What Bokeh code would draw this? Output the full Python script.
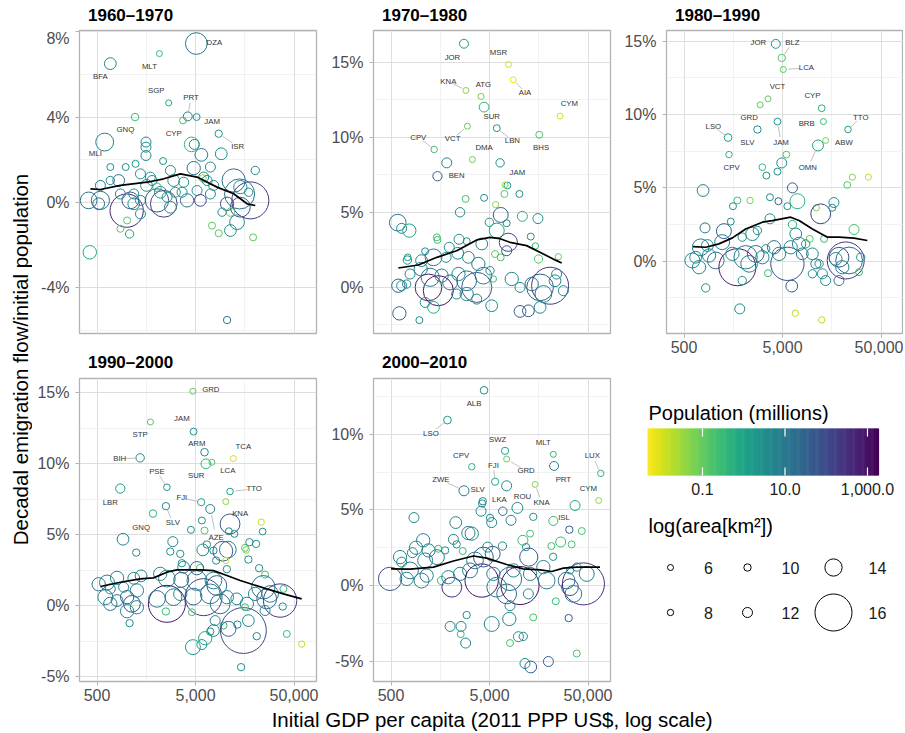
import math
from bokeh.plotting import figure
from bokeh.models import Range1d, FixedTicker, NumeralTickFormatter, PrintfTickFormatter, ColumnDataSource
from bokeh.layouts import row, column
from bokeh.transform import log_cmap
from bokeh.palettes import Viridis256
from bokeh.embed import file_html
from bokeh.resources import INLINE
from bokeh.core.properties import value

FONT = "Liberation Sans"
PAL = list(Viridis256)[::-1]
POP_LO, POP_HI = 10 ** -2.333, 10 ** 3.267
X_LO, X_HI = 10 ** 2.521, 10 ** 4.927
X_TICKS = [500, 5000, 50000]
X_MINOR = [158.1, 1581.1, 15811.4, 158113.9]
POP_TICKS = [0.1, 10, 1000]
POP_TICK_LABELS = ["0.1", "10.0", "1,000.0"]
AREA_KEYS = [6, 8, 10, 12, 14, 16]
PANEL_TITLES = ["1960\u20131970", "1970\u20131980", "1980\u20131990", "1990\u20132000", "2000\u20132010"]

# ---------------- 1960-1970 ----------------
p60_gdp = [5090, 2150, 682, 2670, 4170, 3730, 5130, 8590, 1216, 598,
           422, 10450, 1570, 1570, 1570, 4570, 4860, 5730, 9120, 682,
           977, 1230, 2340, 7080, 20200, 4790, 6050, 2780, 1380, 830,
           1740, 3000, 3790, 7640, 12200, 14250, 541, 520, 1000, 1090,
           1180, 863, 1380, 2030, 2380, 2570, 4100, 5600, 7080, 10450,
           18000, 14000, 14250, 11300, 9300, 11300, 7350, 8590, 13200, 19200,
           863, 1070, 1010, 1380, 1810, 2200, 3120, 3650, 5180, 5920,
           541, 682, 411, 6550, 2030, 1590, 1180, 2780, 17300]
p60_flow = [7.44, 6.97, 6.5, 4.66, 4.03, 3.84, 4.0, 3.22, 4.0, 2.83,
            -2.33, -5.5, 2.83, 2.59, 2.2, 2.72, 2.72, 2.23, 2.28, 1.66,
            1.66, 1.81, 1.94, 1.66, 1.5, 1.61, 1.19, 1.5, 1.34, 1.03,
            1.19, 1.03, 0.95, 0.8, 1.03, 0.72, 0.1, -0.06, -0.38, 0.1,
            0.4, 0.4, 0.1, 0.1, -0.06, 0.25, 0.1, 0.1, 0.4, -0.06,
            0.1, 0.4, -0.22, -0.45, -0.45, -1.31, -1.08, -1.44, -0.92, -1.63,
            -1.23, -1.47, -0.84, -0.53, 1.03, 0.48, 0.48, 0.48, 0.56, 1.14,
            0.8, 1.03, 0.1, 1.03, 0.72, 0.8, -0.06, -0.22, 0.48]
p60_pop = [11, 0.33, 4.8, 0.6, 8.9, 0.2, 1.6, 2.1, 0.25, 5.3,
           0.8, 12, 3, 2.5, 4, 0.35, 3, 8, 3, 3,
           3, 2, 2, 4, 4, 15, 3, 3, 3, 15,
           3, 3, 3, 3, 15, 3, 15, 15, 450, 60,
           3, 3, 3, 60, 150, 3, 15, 150, 3, 60,
           200, 15, 60, 0.12, 4, 3, 0.12, 0.12, 3, 0.12,
           0.12, 1.2, 0.12, 3, 3, 3, 3, 3, 3, 0.03,
           15, 3, 15, 3, 0.4, 3, 3, 3, 3]
p60_area = [14.65, 6, 12.7, 6.5, 11.4, 9.1, 9.3, 10, 10.2, 14.1,
            13.2, 10, 12, 12, 12, 13.5, 12, 13, 12.7, 9.5,
            9.5, 9.5, 9.5, 12, 11, 13.15, 12, 12, 12, 12.7,
            12, 12.7, 12, 12, 14.85, 13.15, 14.15, 12.7, 15.75, 13.9,
            12, 12, 12, 14.85, 15.2, 12, 13.15, 12.7, 12, 13.15,
            16, 15.5, 14.4, 11, 11, 12.7, 9.5, 9.5, 13.5, 9.5,
            9.5, 11, 9.5, 12, 12, 12.7, 12, 12, 12, 9.5,
            12, 11, 13.9, 12, 11, 12.7, 12.7, 12.7, 11]
p60_lab = ["DZA", "MLT", "BFA", "SGP", "PRT", "CYP", "JAM", "ISR", "GNQ", "MLI"]
p60_lab_pt = [0, 1, 2, 3, 4, 5, 6, 7, 8, 9]
p60_lab_gdp = [7760, 1700, 541, 2000, 4500, 3000, 7360, 13400, 970, 481]
p60_lab_flow = [7.48, 6.38, 5.88, 5.25, 4.91, 3.22, 3.8, 2.63, 3.42, 2.28]
p60_lab_seg = [0, 0, 0, 0, 1, 0, 0, 1, 0, 0]
p60_fit_gdp = [428, 541, 863, 1610, 2380, 3510, 5180, 8260, 12200, 16700, 20200]
p60_fit_flow = [0.64, 0.61, 0.8, 0.95, 1.11, 1.34, 1.19, 0.72, 0.41, -0.06, -0.14]

# ---------------- 1970-1980 ----------------
p70_gdp = [2750, 7800, 2880, 4100, 8700, 4400, 26000, 1370, 2980, 5920,
           16000, 3350, 1480, 7590, 7180, 1840, 6400, 10050, 7080, 2860,
           4400, 5780, 2510, 6490, 10770, 15500, 585, 641, 767, 4980,
           5920, 7760, 7460, 13100, 14600, 15700, 25000, 1460, 1480, 2450,
           1950, 2930, 4170, 1110, 733, 738, 1020, 1350, 1810, 2380,
           3050, 3850, 5690, 6490, 7460, 5060, 5470, 593, 721, 780,
           1000, 1200, 1510, 1250, 1630, 1990, 2420, 2930, 3710, 4330,
           2930, 2320, 3710, 5260, 8400, 10200, 13400, 16300, 20600, 17600,
           16300, 12400, 10200, 608, 970, 1350, 1110, 24000, 28100, 23100,
           641]
p70_flow = [16.22, 14.84, 13.11, 12.71, 13.82, 12.0, 11.4, 9.18, 10.73, 10.6,
            10.16, 8.51, 7.4, 6.78, 6.82, 8.29, 8.29, 6.22, 6.22, 5.89,
            5.96, 5.51, 5.0, 4.82, 4.73, 4.58, 4.31, 3.93, 3.78, 4.33,
            3.78, 3.0, 4.27, 3.38, 2.76, 1.89, 2.04, 3.33, 3.16, 3.2,
            2.67, 3.07, 2.89, 2.4, 1.82, 2.0, 1.78, 2.0, 2.0, 2.27,
            2.0, 1.56, 2.22, 2.0, 2.44, 1.11, 0.56, 0.11, 0.22, 0.89,
            1.22, 0.0, -0.22, 0.67, 0.78, 0.33, 0.89, 0.44, 0.0, 0.78,
            -0.44, -0.44, -0.78, -1.22, 0.56, 0.0, 0.22, 0.0, 0.11, -0.44,
            -1.33, -1.56, -1.6, -1.73, -2.18, -1.33, -1.0, 0.89, -0.22, 0.44,
            0.11]
p70_pop = [1.7, 0.012, 0.045, 0.065, 0.007, 0.37, 0.01, 0.27, 0.09, 2.3,
           0.17, 0.07, 40, 1.9, 0.03, 6, 3, 3, 0.12, 0.2,
           3, 0.04, 3, 40, 0.5, 3, 12, 4, 0.8, 3,
           0.8, 100, 3, 3, 0.3, 0.15, 0.1, 0.2, 0.25, 3,
           3, 3, 4, 3, 3, 2, 5, 8, 3, 6,
           5, 8, 0.12, 0.2, 60, 3, 0.2, 40, 4, 4,
           6, 600, 800, 10, 5, 15, 5, 20, 60, 8,
           5, 3, 4, 5, 5, 3, 12, 40, 220, 8,
           3, 40, 40, 30, 3, 0.8, 3, 4, 3, 5,
           3]
p70_area = [11.4, 4.6, 5.6, 6.1, 4.5, 11.9, 5.5, 8.3, 5.9, 9.3,
            9.5, 6.6, 11.6, 9.3, 6, 12, 11, 9.5, 9.5, 9.5,
            9.5, 8, 11.7, 13.55, 12, 12, 13.9, 12, 13.15, 11,
            13.55, 14.15, 9.5, 9.5, 8, 11, 8, 9.5, 9.5, 12,
            12, 9.5, 12.7, 9.5, 11, 9, 12.7, 13.9, 12, 12.7,
            12.7, 13.15, 9.5, 9.5, 12, 11, 8, 13.15, 11, 12,
            13.15, 15.2, 15.5, 14.15, 13.15, 13.55, 13.15, 14.4, 15.5, 13.9,
            13.15, 12, 12, 12.7, 13.15, 12, 13.15, 15.2, 16, 13.9,
            12.7, 12.7, 12.7, 13.15, 9.5, 12.7, 12, 12, 12, 12.7,
            12]
p70_lab = ["JOR", "MSR", "KNA", "ATG", "AIA", "SUR", "CYM", "CPV", "VCT", "LBN", "BHS", "DMA", "BEN", "JAM"]
p70_lab_pt = [0, 1, 2, 3, 4, 5, 6, 7, 8, 9, 10, 11, 12, 13]
p70_lab_gdp = [2100, 6150, 1910, 4330, 11450, 5260, 32300, 946, 2110, 8530, 16700, 4400, 2320, 9590]
p70_lab_flow = [15.33, 15.62, 13.73, 13.51, 12.98, 11.38, 12.22, 10.0, 9.89, 9.78, 9.31, 9.31, 7.44, 7.62]
p70_lab_seg = [0, 0, 1, 0, 1, 0, 0, 1, 1, 1, 0, 0, 0, 0]
p70_fit_gdp = [593, 946, 1460, 2320, 3710, 5060, 6400, 8070, 11900, 17600, 24000, 27000]
p70_fit_flow = [1.29, 1.49, 2.0, 2.44, 3.16, 3.33, 3.24, 3.0, 2.78, 2.22, 1.78, 1.62]

# ---------------- 1980-1990 ----------------
p80_gdp = [4270, 4910, 5090, 3560, 2960, 12500, 23100, 2780, 13000, 4440,
           1400, 13700, 11450, 1430, 5470, 4910, 3120, 3430, 4440, 6300,
           780, 22700, 25600, 37200, 1740, 2340, 1570, 3730, 4540, 7080,
           11000, 12200, 16600, 16000, 5600, 1490, 817, 1270, 1950, 2470,
           2780, 3730, 6300, 6810, 9440, 13200, 26600, 8590, 738, 863,
           1220, 897, 608, 710, 1050, 1740, 2110, 2290, 1550, 2670,
           3120, 3370, 4100, 5600, 4610, 6050, 7360, 7940, 10050, 11750,
           12700, 10050, 13700, 18700, 21900, 23700, 18700, 20200, 31100, 29900,
           3560, 1950, 830, 6200, 1840, 6750, 12500, 656, 10900, 17300]
p80_flow = [14.82, 13.86, 13.07, 11.07, 10.66, 10.43, 8.98, 8.98, 9.52, 9.52,
            8.43, 8.23, 7.89, 7.27, 7.27, 6.7, 6.41, 5.84, 6.11, 5.0,
            4.82, 5.2, 5.73, 5.73, 4.14, 4.14, 3.75, 4.36, 4.09, 4.09,
            3.64, 3.23, 4.0, 3.64, 3.75, 2.7, 2.27, 2.05, 1.64, 1.86,
            2.09, 2.89, 2.5, 1.86, 1.52, 1.52, 2.16, 1.18, 0.95, 1.07,
            1.3, 0.39, 0.05, -0.41, 0.05, -0.41, 0.27, -0.18, 0.5, 0.5,
            0.27, 0.84, 0.95, -0.18, 0.5, 0.95, 1.18, 0.5, 0.5, -0.18,
            -0.86, -0.86, -1.32, -1.32, 0.05, 0.05, 0.27, -0.41, 0.27, -0.75,
            -0.82, -1.32, -1.82, -1.7, -3.25, -3.55, -4.0, 0.27, -0.18, 0.16]
p80_pop = [2.2, 0.15, 0.12, 0.1, 0.1, 0.6, 1.1, 4.6, 0.25, 2.2,
           1.5, 0.06, 1.2, 0.3, 0.15, 3, 0.25, 3, 3, 40,
           6, 0.15, 0.05, 0.015, 0.2, 0.06, 3, 3, 30, 0.5,
           0.05, 150, 3, 3, 3, 3, 10, 40, 3, 4,
           3, 3, 0.5, 4, 0.12, 0.3, 0.2, 3, 10, 5,
           6, 5, 4, 4, 15, 750, 8, 6, 4, 15,
           5, 3, 15, 80, 5, 5, 6, 12, 4, 3,
           3, 3, 4, 10, 230, 20, 60, 8, 3, 0.3,
           0.3, 3, 3, 40, 4, 0.02, 0.02, 5, 12, 5]
p80_area = [11.4, 10.0, 6.4, 5.9, 6, 9.1, 8.6, 10, 6.1, 9.3,
            10.4, 5.2, 12.4, 8.3, 9, 12, 9, 9.5, 9.5, 12,
            12.7, 9, 7, 7, 9.5, 8, 9.5, 9.5, 9.5, 13.55,
            8, 14.4, 12, 9.5, 9.5, 9.5, 12, 13.55, 11, 13.15,
            11, 12, 11, 12.7, 9.5, 9.5, 12, 11, 13.9, 12.7,
            13.55, 13.15, 13.55, 13.15, 13.9, 16, 14.85, 13.9, 13.15, 13.9,
            13.15, 11, 13.15, 15.75, 13.15, 13.15, 13.15, 12.7, 12.7, 11,
            12, 11, 12, 12, 16, 15.2, 14.4, 13.15, 11, 9.5,
            9.5, 11, 11, 12.7, 12, 8, 8, 12.7, 12, 13]
p80_lab = ["JOR", "BLZ", "LCA", "VCT", "GRD", "CYP", "TTO", "SLV", "BRB", "JAM", "LSO", "ABW", "OMN", "CPV"]
p80_lab_pt = [0, 1, 2, 3, 4, 5, 6, 7, 8, 9, 10, 11, 12, 13]
p80_lab_gdp = [2840, 6300, 8730, 4440, 2290, 10050, 31100, 2200, 8790, 4830, 993, 21000, 9020, 1520]
p80_lab_flow = [14.89, 14.89, 13.18, 11.91, 9.77, 11.27, 9.77, 8.07, 9.36, 8.07, 9.2, 8.07, 6.36, 6.41]
p80_lab_seg = [0, 1, 1, 0, 0, 0, 1, 0, 0, 1, 1, 0, 1, 0]
p80_fit_gdp = [617, 830, 1130, 1550, 2110, 3120, 3940, 6050, 7360, 10050, 14300, 18700, 26600, 36300]
p80_fit_flow = [1.0, 0.95, 1.18, 1.59, 2.2, 2.66, 2.77, 3.0, 2.77, 2.2, 1.64, 1.64, 1.57, 1.41]

# ---------------- 1990-2000 ----------------
p90_gdp = [4700, 4770, 1740, 6170, 12100, 1370, 7330, 6370, 2560, 11200,
           861, 5700, 2500, 1850, 10140, 7050, 11200, 23200, 5800, 6170,
           4490, 10900, 12400, 24000, 918, 1250, 2940, 2770, 3500, 5930,
           6520, 7600, 9460, 10640, 15900, 17600, 20600, 16300, 17200, 10140,
           8090, 10400, 22100, 25400, 5570, 5160, 3630, 3780, 3580, 2560,
           2190, 1400, 1180, 798, 631, 520, 682, 931, 1270, 1010,
           798, 1130, 1270, 1010, 1070, 2560, 2030, 2990, 3500, 2500,
           4770, 6030, 7050, 5160, 7600, 8220, 8890, 10400, 13100, 16600,
           20100, 24400, 28600, 36100, 26400, 39000, 38400, 25400, 4590, 7910,
           9620, 13300, 17200, 15300, 10800, 7600, 7050, 6270, 5800, 4700,
           20900, 42200, 59800, 14500, 15900, 607, 682]
p90_flow = [15.09, 12.25, 12.93, 10.8, 10.35, 10.4, 10.09, 9.98, 8.33, 8.03,
            8.24, 7.28, 7.0, 6.48, 7.32, 6.8, 5.75, 5.87, 5.99, 5.28,
            5.33, 5.23, 5.05, 5.21, 4.67, 3.73, 4.5, 3.8, 3.64, 3.92,
            4.3, 3.87, 3.83, 3.94, 4.06, 4.46, 4.34, 3.92, 3.24, 3.17,
            3.17, 2.56, 2.63, 2.18, 2.65, 2.63, 2.98, 2.7, 1.81, 1.9,
            2.23, 2.09, 1.92, 1.95, 1.62, 1.5, 1.17, 1.29, 1.06, 0.59,
            0.35, 0.12, -0.12, -0.4, -1.24, 0.12, 0.47, 0.59, 0.82, -0.42,
            0.63, 0.59, 0.82, 1.76, 1.76, 1.41, 0.12, 0.59, 0.47, 0.12,
            0.82, 1.29, 0.82, 0.35, 0.47, 1.17, -0.07, -0.35, -0.47, -1.06,
            -1.41, -1.34, -1.06, -1.76, -1.64, -1.76, -1.83, -2.3, -2.75, -2.93,
            -2.16, -2.0, -2.72, -4.34, -0.12, 0.59, 0.12]
p90_pop = [0.1, 2.4, 0.12, 3.5, 0.012, 4.3, 0.14, 0.4, 2.2, 1.2,
           2.1, 0.73, 5.3, 0.4, 0.04, 7.2, 50, 0.012, 3, 0.15,
           3, 4, 3, 3, 5, 3, 4, 3, 3, 4,
           3, 3, 50, 6, 0.15, 3, 4, 0.05, 3, 0.012,
           3, 3, 3, 0.2, 0.2, 40, 3, 4, 40, 6,
           4, 4, 4, 5, 6, 12, 4, 4, 5, 40,
           12, 50, 5, 4, 3, 900, 8, 15, 5, 0.3,
           40, 160, 8, 8, 6, 40, 10, 5, 5, 5,
           5, 15, 6, 250, 20, 0.3, 3, 5, 0.2, 4,
           0.3, 4, 5, 100, 40, 5, 3, 1, 3, 1.5,
           4, 0.3, 0.015, 3, 0.2, 8, 12]
p90_area = [5.8, 9.3, 6.9, 10.3, 6.3, 11, 6.4, 11.9, 8.7, 8.6,
            11.6, 9.8, 10, 10.2, 5.6, 11.4, 14.4, 8, 9.5, 9.5,
            9.5, 9.5, 9.5, 9, 12.7, 10, 12, 10, 10, 12.7,
            10, 10, 14.4, 13.9, 9.5, 10, 10, 9, 10, 8,
            10, 10, 10, 9.5, 10, 13.15, 10, 12.7, 13.55, 13.9,
            13.15, 12.7, 12.7, 13.15, 13.55, 13.15, 12, 12, 13.15, 13.15,
            12.7, 13.9, 13.15, 13.15, 10, 16, 13.9, 13.9, 13.15, 10,
            13.9, 16, 14.4, 14.4, 13.9, 14.4, 14.4, 13.15, 12.7, 13.15,
            13.15, 14.85, 13.9, 15.75, 14.4, 9.5, 10, 12, 9.5, 12,
            9.5, 10, 12.7, 16.5, 13.55, 12.7, 10, 13.15, 12, 13.55,
            10, 9.5, 8, 10, 9.5, 13.55, 13.15]
p90_lab = ["GRD", "JAM", "STP", "ARM", "TCA", "BIH", "LCA", "SUR", "PSE", "TTO", "LBR", "FJI", "SLV", "GNQ", "KNA", "AZE"]
p90_lab_pt = [0, 1, 2, 3, 4, 5, 6, 7, 8, 9, 10, 11, 12, 13, 14, 15]
p90_lab_gdp = [7150, 3630, 1370, 5150, 15300, 849, 10640, 5080, 2030, 19700, 682, 3630, 2940, 1400, 14200, 8090]
p90_lab_flow = [15.21, 13.15, 12.02, 11.38, 11.2, 10.33, 9.51, 9.13, 9.44, 8.22, 7.28, 7.58, 5.85, 5.49, 6.5, 4.81]
p90_lab_seg = [0, 0, 0, 0, 0, 1, 0, 0, 1, 1, 0, 1, 1, 0, 0, 1]
p90_fit_gdp = [541, 863, 1370, 1870, 2560, 3230, 5570, 7600, 10400, 14200, 19400, 26400, 39000, 49200, 59800]
p90_fit_flow = [1.34, 1.64, 1.88, 1.95, 2.35, 2.51, 2.51, 2.46, 2.11, 1.76, 1.46, 1.17, 0.82, 0.63, 0.47]

# ---------------- 2000-2010 ----------------
p00_gdp = [4400, 1870, 7180, 22200, 67300, 3300, 5690, 7460, 22600, 2750,
           4270, 4200, 64100, 6810, 9590, 14500, 22200, 7460, 4100, 5060,
           5260, 8260, 13900, 36900, 32300, 43200, 855, 2270, 3050, 3300,
           2150, 2320, 2670, 12900, 10900, 11750, 12500, 26400, 34100, 21200,
           22100, 6750, 4790, 5380, 1060, 897, 824, 617, 641, 1200,
           1510, 1770, 1460, 1110, 780, 489, 721, 1020, 1150, 1630,
           1910, 2070, 2510, 3170, 3560, 4160, 4330, 5470, 5920, 8070,
           10200, 8730, 12900, 12400, 8070, 19000, 30300, 32800, 44900, 35500,
           32800, 38400, 23500, 31800, 2930, 5260, 7940, 1990, 2570, 2550,
           2860, 8070, 9820, 11000, 13900, 38400, 11450, 13100, 19800, 7460,
           17600, 48500]
p00_flow = [12.9, 10.93, 8.9, 8.67, 7.41, 7.85, 6.86, 8.36, 7.9, 6.26,
            5.57, 5.42, 5.62, 4.91, 5.13, 6.68, 4.27, 6.59, 4.91, 4.47,
            4.16, 4.31, 4.54, 5.29, 3.69, 3.6, 4.49, 4.16, 3.47, 3.43,
            3.05, 2.72, 2.28, 3.43, 2.99, 2.54, 1.88, 2.88, 2.72, 2.61,
            1.9, 2.61, 2.54, 2.1, 2.99, 2.5, 2.17, 1.88, 1.55, 2.32,
            2.43, 2.32, 1.88, 1.66, 1.0, 0.44, 0.44, 0.33, 0.66, 0.33,
            0.55, -0.11, 0.77, 1.0, 1.66, 0.33, 1.88, 0.77, -0.11, 0.44,
            0.0, 1.0, 0.77, -0.55, -1.33, 0.33, 0.33, -0.11, 0.11, -0.55,
            1.0, 1.22, -1.04, -2.15, -1.95, -2.54, -2.21, -2.7, -2.7, -3.21,
            -3.8, -3.8, -3.38, -3.36, -2.1, -4.49, -5.15, -5.38, -5.02, -0.55,
            1.22, 0.77]
p00_pop = [3.1, 2.0, 1.1, 0.4, 0.44, 0.44, 0.8, 0.1, 10, 12,
           6, 3, 0.04, 19, 5, 0.045, 0.3, 4, 5, 3,
           5, 5, 3, 0.8, 40, 0.2, 5, 5, 6, 4,
           4, 3, 0.3, 0.2, 0.3, 3, 50, 0.3, 0.2, 0.2,
           3, 3, 4, 40, 6, 6, 4, 5, 4, 5,
           0.3, 3, 6, 6, 8, 70, 5, 8, 6, 0.3,
           6, 300, 6, 8, 6, 1050, 40, 6, 10, 20,
           1260, 6, 6, 4, 4, 8, 15, 60, 280, 8,
           3, 4, 0.3, 40, 3, 5, 5, 4, 4, 0.3,
           4, 0.2, 4, 3, 0.2, 0.2, 4, 40, 40, 20,
           4, 6]
p00_area = [10.3, 10.4, 9.8, 5.8, 7.9, 8.3, 9.8, 5.8, 11.4, 12,
            10, 10, 5.5, 11.1, 12.4, 5.6, 11.5, 12, 12, 10,
            12, 12, 10, 12, 10, 9.5, 12, 12.7, 13.15, 13.15,
            12, 10, 9.5, 9.5, 12, 10, 14.15, 12, 9.5, 9.5,
            10, 11, 12, 13.55, 13.15, 13.15, 12, 13.15, 12, 13.15,
            9.5, 10, 13.55, 13.55, 13.9, 14.85, 13.15, 13.55, 13.15, 11,
            13.15, 14.4, 13.15, 13.55, 13.9, 15.75, 14.4, 13.15, 14.4, 14.85,
            16.07, 13.15, 13.15, 12, 12, 13.9, 13.9, 13.9, 16.3, 13.9,
            10, 11, 9.5, 10, 10, 13.55, 13.15, 12, 12, 9.5,
            12, 9.5, 12, 11, 9.5, 9.5, 12, 12.7, 12, 14.4,
            13.15, 13.55]
p00_lab = ["ALB", "LSO", "SWZ", "MLT", "LUX", "CPV", "FJI", "GRD", "PRT", "ZWE", "SLV", "CYM", "LKA", "ROU", "KNA", "ISL"]
p00_lab_pt = [0, 1, 2, 3, 4, 5, 6, 7, 8, 9, 10, 12, 13, 14, 15, 16]
p00_lab_gdp = [3480, 1270, 6050, 17600, 55300, 2570, 5470, 11750, 28100, 1600, 3790, 50400, 6300, 10800, 16900, 28500]
p00_lab_flow = [12.06, 10.06, 9.67, 9.45, 8.56, 8.58, 7.9, 7.57, 7.01, 7.01, 6.35, 6.42, 5.69, 5.91, 5.49, 4.49]
p00_lab_seg = [0, 1, 0, 0, 1, 0, 1, 1, 0, 1, 0, 0, 0, 0, 1, 0]
p00_fit_gdp = [500, 780, 1350, 2150, 3430, 4680, 7460, 11000, 16300, 21400, 28100, 38400, 66200]
p00_fit_flow = [1.1, 1.08, 1.22, 1.62, 1.95, 1.81, 1.39, 1.1, 1.04, 0.93, 1.15, 1.22, 1.22]


def diam(la):
    # size scale for log(area[km2]) -> circle diameter in px
    return 6.0 + 0.01047 * (math.exp(la / 2.0) - math.exp(3.0))


def make_panel(gdp, flow, pop, area, lab, lab_pt, lab_gdp, lab_flow, lab_seg,
               fit_gdp, fit_flow, yr, yticks, yminor, width, height, bl, br, bt, bb, xaxis):
    p = figure(width=width, height=height, x_axis_type="log",
               x_range=Range1d(X_LO, X_HI), y_range=Range1d(yr[0], yr[1]),
               x_axis_location="below" if xaxis else None,
               output_backend="svg", toolbar_location=None,
               min_border_left=bl, min_border_right=br, min_border_top=bt, min_border_bottom=bb)
    xt = FixedTicker(ticks=X_TICKS, minor_ticks=X_MINOR)
    yt = FixedTicker(ticks=yticks, minor_ticks=yminor)
    p.xgrid.ticker = xt
    p.ygrid.ticker = yt
    if xaxis:
        p.xaxis.ticker = xt
        p.xaxis.formatter = NumeralTickFormatter(format="0,0")
        p.xaxis.major_label_standoff = 3
    p.yaxis.ticker = yt
    p.yaxis.formatter = PrintfTickFormatter(format="%d%%")
    for ax in p.axis:
        ax.axis_line_color = None
        ax.major_tick_line_color = "#b3b3b3"
        ax.major_tick_out = 4
        ax.major_tick_in = 0
        ax.minor_tick_line_color = None
        ax.major_label_text_font = FONT
        ax.major_label_text_font_size = "16px"
        ax.major_label_text_color = "#4d4d4d"
    p.yaxis.major_label_standoff = 6
    for g in (p.xgrid, p.ygrid):
        g.grid_line_color = "#dedede"
        g.grid_line_width = 1
        g.minor_grid_line_color = "#ececec"
        g.minor_grid_line_width = 0.7
    p.outline_line_color = "#b3b3b3"
    p.outline_line_width = 1.3

    src = ColumnDataSource(dict(gdp=gdp, flow=flow, pop=pop, size=[diam(a) for a in area]))
    p.scatter("gdp", "flow", size="size", source=src, fill_color=None,
              line_color=log_cmap("pop", PAL, POP_LO, POP_HI), line_width=1.0)
    p.line(fit_gdp, fit_flow, line_color="black", line_width=1.7)

    x0, y0, x1, y1 = [], [], [], []
    for i in range(len(lab)):
        if lab_seg[i]:
            k = lab_pt[i]
            ax_, ay_ = math.log10(gdp[k]), flow[k]
            bx_, by_ = math.log10(lab_gdp[i]), lab_flow[i]
            x0.append(10 ** (ax_ + 0.22 * (bx_ - ax_)))
            y0.append(ay_ + 0.22 * (by_ - ay_))
            x1.append(10 ** (ax_ + 0.72 * (bx_ - ax_)))
            y1.append(ay_ + 0.72 * (by_ - ay_))
    if x0:
        p.segment(x0, y0, x1, y1, line_color="#b0b0b0", line_width=0.8)
    p.text(x=lab_gdp, y=lab_flow, text=lab, text_font=value(FONT), text_font_size="7.8px",
           text_align="center", text_baseline="middle", text_color="#333333")
    return p


def blank(w, h):
    f = figure(width=w, height=h, x_range=Range1d(0, w), y_range=Range1d(0, h),
               x_axis_location=None, y_axis_location=None, output_backend="svg",
               toolbar_location=None, min_border_left=0, min_border_right=0,
               min_border_top=0, min_border_bottom=0, frame_align=False)
    f.xgrid.visible = False
    f.ygrid.visible = False
    f.outline_line_color = None
    return f


def title_strip(w, h, text, x, from_top):
    f = blank(w, h)
    f.text(x=[x], y=[h - from_top], text=[text], text_font=value(FONT), text_font_size="17px",
           text_font_style="bold", text_align="left", text_baseline="middle", text_color="black")
    return f


MINOR5 = [-7.5, -2.5, 2.5, 7.5, 12.5, 17.5]
p1 = make_panel(p60_gdp, p60_flow, p60_pop, p60_area, p60_lab, p60_lab_pt,
                p60_lab_gdp, p60_lab_flow, p60_lab_seg, p60_fit_gdp, p60_fit_flow,
                (-6.13, 8.05), [-4, 0, 4, 8], [-6, -2, 2, 6], 290, 316, 47, 6, 1, 12, False)
p2 = make_panel(p70_gdp, p70_flow, p70_pop, p70_area, p70_lab, p70_lab_pt,
                p70_lab_gdp, p70_lab_flow, p70_lab_seg, p70_fit_gdp, p70_fit_flow,
                (-3.07, 17.1), [0, 5, 10, 15], MINOR5, 294, 316, 51, 6, 1, 12, False)
p3 = make_panel(p80_gdp, p80_flow, p80_pop, p80_area, p80_lab, p80_lab_pt,
                p80_lab_gdp, p80_lab_flow, p80_lab_seg, p80_fit_gdp, p80_fit_flow,
                (-4.93, 15.73), [0, 5, 10, 15], MINOR5, 287, 333, 50, 0, 1, 29, True)
p4 = make_panel(p90_gdp, p90_flow, p90_pop, p90_area, p90_lab, p90_lab_pt,
                p90_lab_gdp, p90_lab_flow, p90_lab_seg, p90_fit_gdp, p90_fit_flow,
                (-5.35, 15.99), [-5, 0, 5, 10, 15], MINOR5, 290, 330, 47, 6, 1, 26, True)
p5 = make_panel(p00_gdp, p00_flow, p00_pop, p00_area, p00_lab, p00_lab_pt,
                p00_lab_gdp, p00_lab_flow, p00_lab_seg, p00_fit_gdp, p00_fit_flow,
                (-6.34, 13.68), [-5, 0, 5, 10], MINOR5, 294, 330, 51, 6, 1, 26, True)

t1 = title_strip(290, 29, PANEL_TITLES[0], 55.5, 15)
t2 = title_strip(294, 29, PANEL_TITLES[1], 59.5, 15)
t3 = title_strip(287, 29, PANEL_TITLES[2], 58.5, 15)
t4 = title_strip(290, 32, PANEL_TITLES[3], 55.5, 17)
t5 = title_strip(294, 32, PANEL_TITLES[4], 59.5, 17)

# ---------------- legend ----------------
LW, LH = 287, 345
leg = blank(LW, LH)


def ly(top):
    return LH - top


bar_l, bar_r, bar_t, bar_b = 31, 262, 66, 113
lo, hi = math.log10(POP_LO), math.log10(POP_HI)
n = len(PAL)
edges = [bar_l + (bar_r - bar_l) * i / n for i in range(n + 1)]
leg.quad(left=edges[:-1], right=[e + 0.6 for e in edges[1:]], top=ly(bar_t), bottom=ly(bar_b),
         fill_color=PAL, line_color=None)
tick_x = [bar_l + (math.log10(v) - lo) / (hi - lo) * (bar_r - bar_l) for v in POP_TICKS]
leg.segment(tick_x, [ly(bar_t)] * 3, tick_x, [ly(bar_t + 8)] * 3, line_color="white", line_width=1.2)
leg.segment(tick_x, [ly(bar_b - 8)] * 3, tick_x, [ly(bar_b)] * 3, line_color="white", line_width=1.2)
leg.text(x=tick_x, y=[ly(126)] * 3, text=POP_TICK_LABELS, text_font=value(FONT), text_font_size="16px",
         text_align="center", text_baseline="middle", text_color="#222222")
leg.text(x=[32, 32], y=[ly(50), ly(163)], text=["Population (millions)", "log(area[km\u00b2])"],
         text_font=value(FONT), text_font_size="20px", text_align="left", text_baseline="middle",
         text_color="black")
col_cx = [54, 131, 217]
col_tx = [92, 174, 261]
row_y = [205, 250]
cx, cy, tx_, ty_, sz, lbl = [], [], [], [], [], []
for j, k in enumerate(AREA_KEYS):
    c, r = j // 2, j % 2
    cx.append(col_cx[c]); cy.append(ly(row_y[r]))
    tx_.append(col_tx[c]); ty_.append(ly(row_y[r]))
    sz.append(diam(k)); lbl.append(str(k))
leg.scatter(cx, cy, size=sz, fill_color=None, line_color="black", line_width=1.0)
leg.text(x=tx_, y=ty_, text=lbl, text_font=value(FONT), text_font_size="16px",
         text_align="center", text_baseline="middle", text_color="#1a1a1a")

# ---------------- axis titles ----------------
ytitle = blank(32, 732)
ytitle.text(x=[20], y=[732 - 359], text=["Decadal emigration flow/initial population"], angle=math.pi / 2,
            text_font=value(FONT), text_font_size="20.5px", text_align="center", text_baseline="middle",
            text_color="black")
xtitle = blank(871, 25)
xtitle.text(x=[460], y=[13], text=["Initial GDP per capita (2011 PPP US$, log scale)"],
            text_font=value(FONT), text_font_size="20.5px", text_align="center", text_baseline="middle",
            text_color="black")

layout = row(ytitle, column(row(column(t1, p1, t4, p4), column(t2, p2, t5, p5), column(t3, p3, leg)), xtitle))
open("out.html", "w").write(file_html(layout, INLINE))
